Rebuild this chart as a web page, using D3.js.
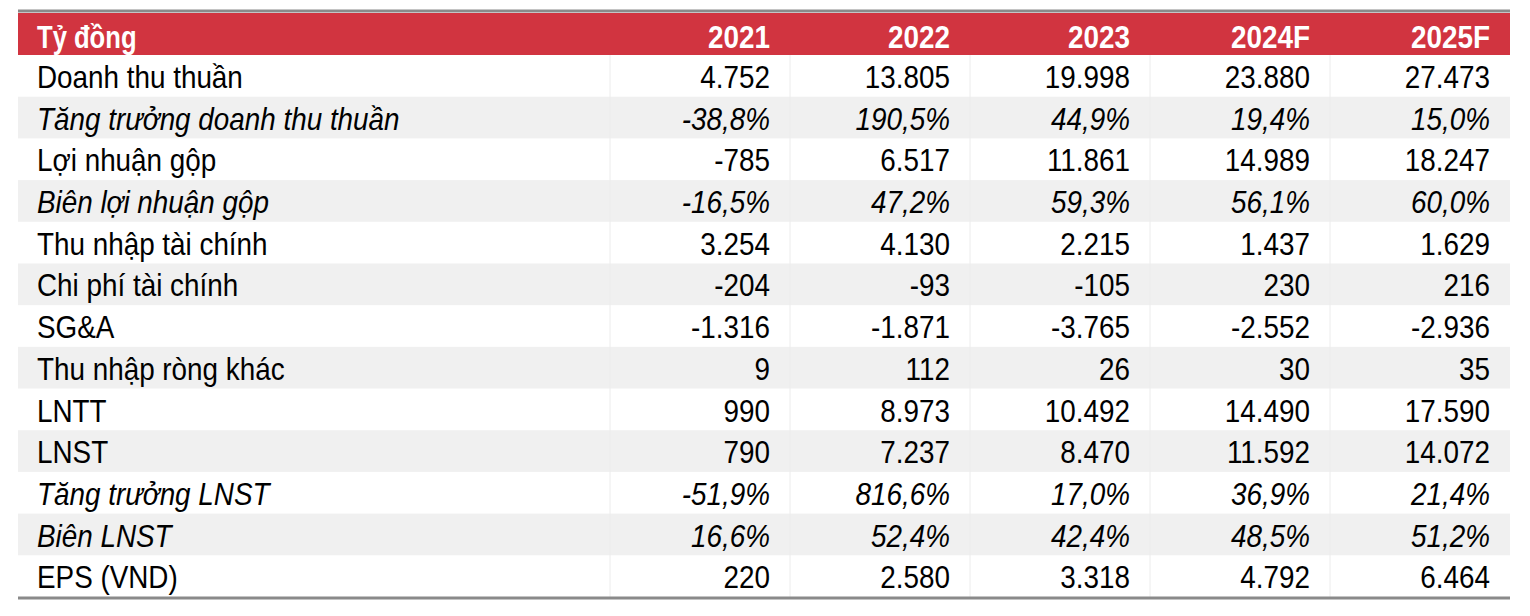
<!DOCTYPE html>
<html>
<head>
<meta charset="utf-8">
<script src="https://cdn.jsdelivr.net/npm/d3@7"></script>
<style>
  body { margin: 0; background: #fff; }
  text { font-family: "Liberation Sans", Arial, sans-serif; }
</style>
</head>
<body>
<div id="table"></div>
<script>
// ---- data ----
const years = ["2021", "2022", "2023", "2024F", "2025F"];
const rowLabels = [
  "Doanh thu thuần", "Tăng trưởng doanh thu thuần", "Lợi nhuận gộp", "Biên lợi nhuận gộp",
  "Thu nhập tài chính", "Chi phí tài chính", "SG&A", "Thu nhập ròng khác",
  "LNTT", "LNST", "Tăng trưởng LNST", "Biên LNST", "EPS (VND)"
];
const italicRows = [1, 3, 10, 11];
const doanhThu = ["4.752", "13.805", "19.998", "23.880", "27.473"];
const tangTruongDT = ["-38,8%", "190,5%", "44,9%", "19,4%", "15,0%"];
const loiNhuanGop = ["-785", "6.517", "11.861", "14.989", "18.247"];
const bienLNG = ["-16,5%", "47,2%", "59,3%", "56,1%", "60,0%"];
const thuNhapTC = ["3.254", "4.130", "2.215", "1.437", "1.629"];
const chiPhiTC = ["-204", "-93", "-105", "230", "216"];
const sga = ["-1.316", "-1.871", "-3.765", "-2.552", "-2.936"];
const thuNhapKhac = ["9", "112", "26", "30", "35"];
const lntt = ["990", "8.973", "10.492", "14.490", "17.590"];
const lnst = ["790", "7.237", "8.470", "11.592", "14.072"];
const tangTruongLNST = ["-51,9%", "816,6%", "17,0%", "36,9%", "21,4%"];
const bienLNST = ["16,6%", "52,4%", "42,4%", "48,5%", "51,2%"];
const eps = ["220", "2.580", "3.318", "4.792", "6.464"];
const values = [doanhThu, tangTruongDT, loiNhuanGop, bienLNG, thuNhapTC, chiPhiTC, sga,
  thuNhapKhac, lntt, lnst, tangTruongLNST, bienLNST, eps];

const W = 1530, H = 616;
const left = 18, right = 1510, labelEnd = 610;
const headTop = 13, headBot = 55, bottom = 597;
const fs = 32, squeeze = 0.87; // narrow look

const svg = d3.select("#table").append("svg")
  .attr("width", W).attr("height", H);

// scales
const y = d3.scaleBand().domain(d3.range(rowLabels.length)).range([headBot, bottom]);
const x = d3.scaleBand().domain(years).range([labelEnd, right]);

// header
svg.append("rect").attr("x", left).attr("y", headTop)
  .attr("width", right - left).attr("height", headBot - headTop).attr("fill", "#d13440");
svg.append("line").attr("x1", left).attr("x2", right).attr("y1", 11).attr("y2", 11)
  .attr("stroke", "#8a8a8a").attr("stroke-width", 3);

svg.append("text").attr("transform", "translate(37,48) scale(0.8,1)")
  .attr("fill", "#fff").attr("font-weight", "bold").attr("font-size", fs)
  .text("Tỷ đồng");
svg.selectAll(".yr").data(years).enter().append("text")
  .attr("transform", d => "translate(" + (x(d) + x.bandwidth() - 20) + ",48) scale(" + squeeze + ",1)")
  .attr("text-anchor", "end").attr("fill", "#fff")
  .attr("font-weight", "bold").attr("font-size", fs)
  .text(d => d);

// row stripes
svg.selectAll(".stripe").data(d3.range(rowLabels.length).filter(i => i % 2 === 1))
  .enter().append("rect")
  .attr("x", left).attr("y", i => y(i))
  .attr("width", right - left).attr("height", y.bandwidth())
  .attr("fill", "#f0f0f0");

// faint column separators
svg.selectAll(".sep").data([labelEnd].concat(years.slice(1).map(d => x(d))))
  .enter().append("line")
  .attr("x1", d => d).attr("x2", d => d)
  .attr("y1", headBot).attr("y2", bottom)
  .attr("stroke", "#ececec").attr("stroke-width", 1);

// rows
const rows = svg.selectAll(".row").data(rowLabels).enter().append("g")
  .attr("transform", (d, i) => "translate(0," + y(i) + ")");

rows.append("text")
  .attr("transform", "translate(37,33) scale(" + squeeze + ",1)")
  .attr("font-size", fs)
  .attr("font-style", (d, i) => italicRows.includes(i) ? "italic" : "normal")
  .attr("fill", "#000")
  .text(d => d);

rows.each(function(d, i) {
  d3.select(this).selectAll(".v").data(values[i]).enter().append("text")
    .attr("transform", (v, j) => "translate(" + (x(years[j]) + x.bandwidth() - 20) + ",33) scale(" + squeeze + ",1)")
    .attr("font-size", fs).attr("text-anchor", "end")
    .attr("font-style", italicRows.includes(i) ? "italic" : "normal")
    .attr("fill", "#000")
    .text(v => v);
});

// bottom rule
svg.append("line").attr("x1", left).attr("x2", right).attr("y1", bottom + 1).attr("y2", bottom + 1)
  .attr("stroke", "#8a8a8a").attr("stroke-width", 3);
</script>
</body>
</html>
